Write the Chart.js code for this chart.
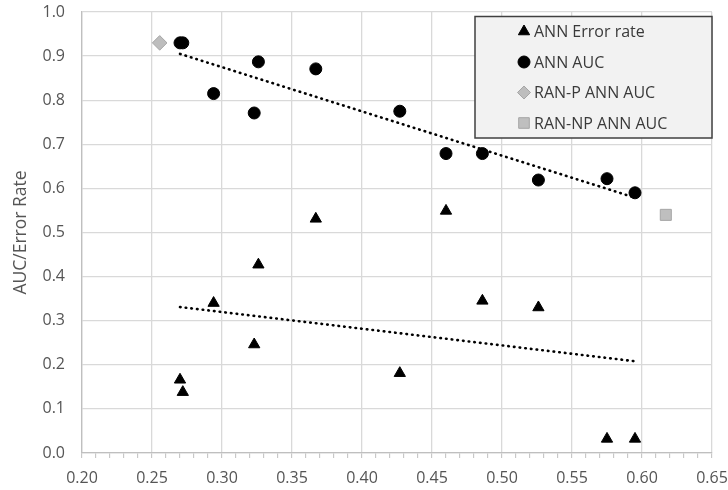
<!DOCTYPE html>
<html>
<head>
<meta charset="utf-8">
<script src="https://cdn.jsdelivr.net/npm/chart.js@4/dist/chart.umd.min.js"></script>
<style>
  html, body { margin: 0; padding: 0; background: #ffffff; }
  #wrap { width: 728px; height: 490px; position: relative; }
</style>
</head>
<body>
<div id="wrap"><canvas id="c" width="728" height="490"></canvas></div>
<script>
// ---- Data ----
const modelX      = [0.270, 0.272, 0.294, 0.323, 0.326, 0.367, 0.427, 0.460, 0.486, 0.526, 0.575, 0.595];
const annErrRate  = [0.166, 0.138, 0.340, 0.246, 0.427, 0.531, 0.181, 0.549, 0.345, 0.330, 0.032, 0.032];
const annAUC      = [0.930, 0.930, 0.815, 0.771, 0.887, 0.871, 0.775, 0.679, 0.679, 0.619, 0.622, 0.590];
const ranPX = [0.2555], ranPAUC = [0.930];
const ranNPX = [0.617], ranNPAUC = [0.540];
// trend line end points
const aucTrendX = [0.270, 0.595], aucTrendY = [0.905, 0.579];
const errTrendX = [0.270, 0.595], errTrendY = [0.331, 0.208];
const seriesLabels = ['ANN Error rate', 'ANN AUC', 'RAN-P ANN AUC', 'RAN-NP ANN AUC'];
const yTitle = 'AUC/Error Rate';

const pts = (xs, ys) => xs.map((x, i) => ({ x: x, y: ys[i] }));

const FONT = '"Open Sans", "Noto Sans", sans-serif';
const TICK_COLOR = '#555555';

// Custom legend box drawn inside the chart area
const legendBox = {
  id: 'legendBox',
  afterDatasetsDraw(chart) {
    const ctx = chart.ctx, a = chart.chartArea;
    const right = a.right, top = a.top + 4.5;
    const left = right - 237, bottom = top + 121.5;
    ctx.save();
    ctx.fillStyle = '#f2f2f2';
    ctx.fillRect(left, top, right - left, bottom - top);
    ctx.strokeStyle = '#404040';
    ctx.lineWidth = 1.5;
    ctx.strokeRect(left, top, right - left, bottom - top);
    const items = [
      { style: 'triangle', r: 6.5, fill: '#000000', stroke: '#000000' },
      { style: 'circle', r: 6, fill: '#000000', stroke: '#000000' },
      { style: 'rectRot', r: 6.5, fill: '#bdbdbd', stroke: '#a6a6a6' },
      { style: 'rect', r: 7.5, fill: '#bfbfbf', stroke: '#a6a6a6' }
    ];
    ctx.font = '16px ' + FONT;
    ctx.textBaseline = 'middle';
    ctx.textAlign = 'left';
    items.forEach((it, i) => {
      const cy = top + 15 + i * 30.5;
      const mx = left + 49;
      ctx.fillStyle = it.fill;
      ctx.strokeStyle = it.stroke;
      ctx.lineWidth = 1;
      Chart.helpers.drawPoint(ctx, { pointStyle: it.style, radius: it.r, borderWidth: 1, rotation: 0 }, mx, cy);
      ctx.fillStyle = '#3a3a3a';
      ctx.fillText(seriesLabels[i], left + 59, cy + 1);
    });
    ctx.restore();
  }
};

new Chart(document.getElementById('c'), {
  type: 'scatter',
  data: {
    datasets: [
      {
        label: seriesLabels[0], data: pts(modelX, annErrRate),
        pointStyle: 'triangle', pointRadius: 6.5, pointHoverRadius: 6.5,
        backgroundColor: '#000000', borderColor: '#000000', borderWidth: 1, order: 3
      },
      {
        label: seriesLabels[1], data: pts(modelX, annAUC),
        pointStyle: 'circle', pointRadius: 6, pointHoverRadius: 6,
        backgroundColor: '#000000', borderColor: '#000000', borderWidth: 1, order: 3
      },
      {
        label: seriesLabels[2], data: pts(ranPX, ranPAUC),
        pointStyle: 'rectRot', pointRadius: 7.3, pointHoverRadius: 7.3,
        backgroundColor: '#bdbdbd', borderColor: '#a6a6a6', borderWidth: 1, order: 3
      },
      {
        label: seriesLabels[3], data: pts(ranNPX, ranNPAUC),
        pointStyle: 'rect', pointRadius: 7.8, pointHoverRadius: 7.8,
        backgroundColor: '#bfbfbf', borderColor: '#a6a6a6', borderWidth: 1, order: 3
      },
      {
        label: 'AUC trend', data: pts(aucTrendX, aucTrendY), showLine: true,
        pointRadius: 0, borderColor: '#000000', borderWidth: 2.6,
        borderDash: [0.6, 5.1], borderCapStyle: 'round', fill: false, order: 1
      },
      {
        label: 'Error trend', data: pts(errTrendX, errTrendY), showLine: true,
        pointRadius: 0, borderColor: '#000000', borderWidth: 2.6,
        borderDash: [0.6, 5.1], borderCapStyle: 'round', fill: false, order: 1
      }
    ]
  },
  options: {
    responsive: false,
    animation: false,
    devicePixelRatio: 1,
    layout: { padding: { left: 0, top: 12, right: 16, bottom: 0 } },
    plugins: { legend: { display: false }, tooltip: { enabled: false } },
    scales: {
      x: {
        type: 'linear', min: 0.2, max: 0.65,
        afterFit(s) { s.height = 37; s.paddingLeft = 0; s.paddingRight = 0; },
        ticks: {
          stepSize: 0.01, autoSkip: false, maxRotation: 0, minRotation: 0,
          padding: 11, color: TICK_COLOR, font: { family: FONT, size: 16 },
          callback(v) {
            const k = Math.round(v * 100);
            return (k % 5 === 0) ? (k / 100).toFixed(2) : '';
          }
        },
        grid: {
          color(ctx) {
            const v = ctx.tick ? ctx.tick.value : 0;
            return Math.round(v * 100) % 5 === 0 ? '#d9d9d9' : 'rgba(0,0,0,0)';
          },
          lineWidth: 1.3, tickColor: '#bfbfbf', tickLength: 5, tickWidth: 1
        },
        border: { color: '#bfbfbf', width: 1.3 }
      },
      y: {
        min: 0, max: 1,
        afterFit(s) { s.width = 82; s.paddingTop = 0; s.paddingBottom = 0; },
        title: {
          display: true, text: yTitle, color: TICK_COLOR,
          font: { family: FONT, size: 17.5 }, padding: { top: 11, bottom: 0 }
        },
        ticks: {
          stepSize: 0.1, padding: 17, color: TICK_COLOR,
          font: { family: FONT, size: 16 },
          callback(v) { return Number(v).toFixed(1); }
        },
        grid: { color: '#d9d9d9', lineWidth: 1.3, drawTicks: false },
        border: { color: '#bfbfbf', width: 1.3 }
      }
    }
  },
  plugins: [legendBox]
});
</script>
</body>
</html>
